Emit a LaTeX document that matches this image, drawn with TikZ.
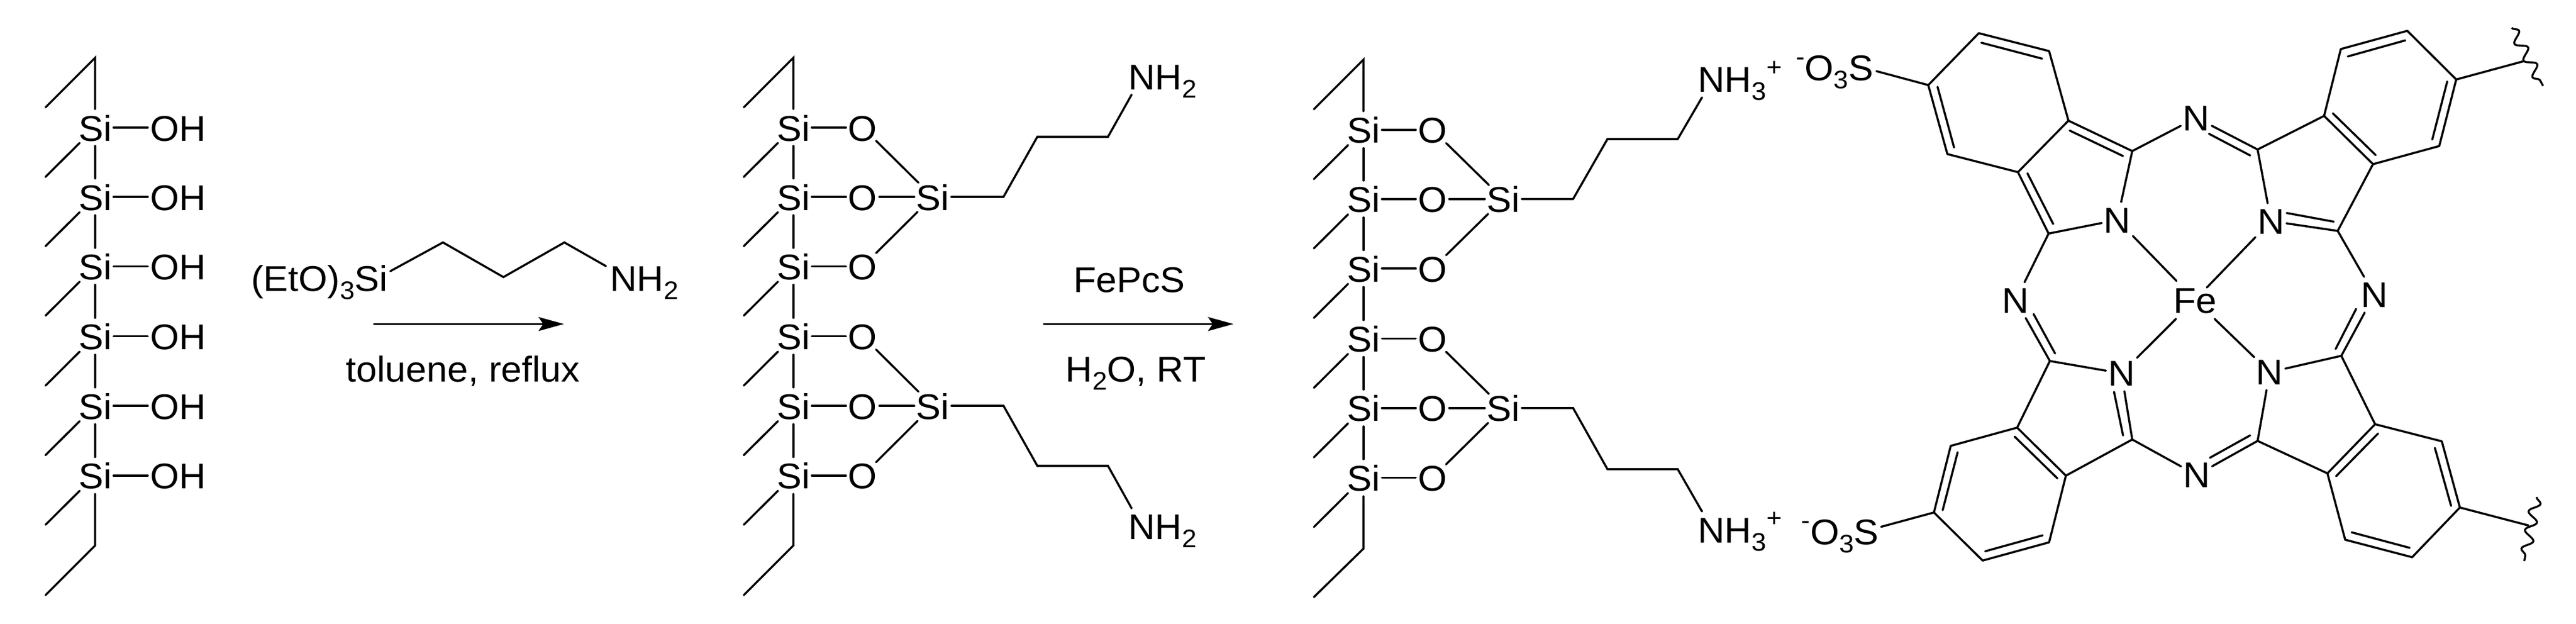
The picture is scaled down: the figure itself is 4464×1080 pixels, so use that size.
\documentclass[tikz,border=0pt]{standalone}
\usepackage{fontspec}
\setmainfont[FakeStretch=1.04]{Liberation Sans}
\usetikzlibrary{arrows.meta,decorations.pathmorphing}
\newcommand\sbt[1]{\raisebox{-14pt}{\fontsize{44pt}{50pt}\selectfont #1}}
\newcommand\spt[2]{\raisebox{#1}{\fontsize{44pt}{50pt}\selectfont #2}}
\tikzset{
  bond/.style={line width=3.6pt,line cap=round,line join=miter,black},
  txt/.style={font=\fontsize{62pt}{70pt}\selectfont,inner sep=0pt,outer sep=0pt,text=black},
  atom/.style={txt,text height=46pt,text depth=0pt,anchor=center},
  sinode/.style={atom,minimum width=64pt,minimum height=64pt},
  onode/.style={atom,minimum width=58pt,minimum height=46pt},
  ohnode/.style={atom,inner xsep=4pt},
  nnode/.style={txt,text height=44pt,text depth=0pt,anchor=center,minimum width=54pt,minimum height=62pt},
  fenode/.style={atom,minimum height=66pt},
  amine/.style={txt,text height=54pt,text depth=9pt,anchor=base west},
  label/.style={txt,anchor=base},
  rxn/.style={line width=3.6pt,black,-{Stealth[length=44pt,width=24pt,inset=8pt]}},
  wavy/.style={line width=3.4pt,black,decorate,decoration={snake,amplitude=9pt,segment length=33pt}},
}
% #1 prefix, #2 column x, #3 row shift, #4 top-vertex y, #5 bottom-vertex y, #6 tail y
\newcommand\pillar[6]{
  \foreach \n/\y in {1/221,2/341,3/461.4,4/582.6,5/703,6/823.7}{
    \node[sinode] (#1\n) at (#2,\y+#3) {Si};
    \coordinate (#1t\n) at (#2-86,\y+#3+85.5);
    \draw[bond,shorten <=-7.5pt] (#1\n) -- (#1t\n);
  }
  \foreach \n/\m in {1/2,2/3,3/4,4/5,5/6}{\draw[bond] (#1\n) -- (#1\m);}
  \coordinate (#1top) at (#2,#4);
  \coordinate (#1toptip) at (#2-86,#4+86);
  \coordinate (#1bot) at (#2,#5);
  \coordinate (#1bottip) at (#2-86,#6);
  \draw[bond] (#1toptip) -- (#1top) -- (#11);
  \draw[bond] (#16) -- (#1bot) -- (#1bottip);
}
% siloxane part: #1 prefix, #2 O x, #3 Si x, #4 row shift
\newcommand\siloxane[4]{
  \foreach \n/\y in {1/221,2/341,3/461.4,4/582.6,5/703,6/823.7}{
    \node[onode] (#1o\n) at (#2,\y+#4) {O};
    \draw[bond] (#1\n) -- (#1o\n);
  }
  \node[sinode] (#1sa) at (#3,341+#4) {Si};
  \node[sinode] (#1sb) at (#3,703+#4) {Si};
  \draw[bond] (#1o2) -- (#1sa);
  \draw[bond] (#1o5) -- (#1sb);
  \draw[bond,shorten >=-10pt] (#1o1) -- (#1sa);
  \draw[bond,shorten >=-8pt] (#1o3) -- (#1sa);
  \draw[bond,shorten >=-10pt] (#1o4) -- (#1sb);
  \draw[bond,shorten >=-8pt] (#1o6) -- (#1sb);
}
% double bond: outer #1--#2, inner line between two given points
\newcommand\dbl[6]{
  \coordinate (#1#2s) at (#3,#4);
  \coordinate (#1#2e) at (#5,#6);
  \draw[bond] (#1) -- (#2);
  \draw[bond] (#1#2s) -- (#1#2e);
}
\begin{document}
\begin{tikzpicture}[x=1pt,y=-1pt]
\path[use as bounding box,fill=white] (0,0) rectangle (4464,1080);

% ---- left column
\pillar{a}{164.8}{0}{100}{945}{1031}
\foreach \n/\y in {1/221,2/341,3/461.4,4/582.6,5/703,6/823.7}{
  \node[ohnode] (aoh\n) at (308.4,\y) {OH};
  \draw[bond] (a\n) -- (aoh\n);
}

% ---- reagent
\node[txt,text height=68.6pt,text depth=0pt,anchor=base east,inner xsep=4.5pt] (rgsi) at (676.5,504) {(EtO)\sbt{3}Si};
\node[txt,text height=43pt,text depth=0pt,anchor=base west] (rgnh) at (1057,504) {NH\sbt{2}};
\coordinate (rg1) at (767.6,420);
\coordinate (rg2) at (872.4,480);
\coordinate (rg3) at (978,420);
\draw[bond] (rgsi.east) -- (rg1) -- (rg2) -- (rg3) -- ([xshift=-7pt]rgnh.north west);
\coordinate (ar1s) at (646.7,561.3);
\coordinate (ar1e) at (977.3,561.3);
\draw[rxn] (ar1s) -- (ar1e);
\node[label] (tol) at (802.4,661) {toluene, reflux};

% ---- middle
\pillar{b}{1374.8}{0}{100}{945}{1031}
\siloxane{b}{1495}{1616.4}{0}
\coordinate (bc1) at (1739,341);
\coordinate (bc2) at (1797.6,237);
\coordinate (bc3) at (1920,237);
\coordinate (bc4) at (1739,703);
\coordinate (bc5) at (1797.6,807);
\coordinate (bc6) at (1920,807);
\node[amine] (bnh1) at (1955,155) {NH\sbt{2}};
\node[amine] (bnh2) at (1955,934.6) {NH\sbt{2}};
\draw[bond] (bsa) -- (bc1) -- (bc2) -- (bc3) -- ([xshift=6pt]bnh1.south west);
\draw[bond] (bsb) -- (bc4) -- (bc5) -- (bc6) -- ([xshift=6pt]bnh2.north west);
\coordinate (ar2s) at (1807.8,561.3);
\coordinate (ar2e) at (2137.5,561.3);
\draw[rxn] (ar2s) -- (ar2e);
\node[label] (fepcs) at (1957,506) {FePcS};
\node[label] (water) at (1968,661) {H\sbt{2}O, RT};

% ---- right
\pillar{c}{2362.8}{3.8}{103.3}{950.4}{1034.4}
\siloxane{c}{2482.5}{2605}{3.8}
\coordinate (cc1) at (2726,344.8);
\coordinate (cc2) at (2785.5,241);
\coordinate (cc3) at (2907.3,241);
\coordinate (cc4) at (2726,706.8);
\coordinate (cc5) at (2785.5,812.7);
\coordinate (cc6) at (2907.3,812.7);
\node[amine] (cnh1) at (2942.4,159.8) {NH\sbt{3}\spt{28pt}{+}};
\node[amine] (cnh2) at (2942.4,940) {NH\sbt{3}\spt{28pt}{+}};
\draw[bond] (csa) -- (cc1) -- (cc2) -- (cc3) -- ([xshift=7pt]cnh1.south west);
\draw[bond] (csb) -- (cc4) -- (cc5) -- (cc6) -- ([xshift=7pt]cnh2.north west);

% ---- phthalocyanine atoms
\node[fenode] (fe) at (3803.6,519.5) {Fe};
\node[nnode] (ntl) at (3669,381) {N};
\node[nnode] (ntr) at (3935.4,383) {N};
\node[nnode] (nbl) at (3676.3,646.8) {N};
\node[nnode] (nbr) at (3933.2,644.7) {N};
\node[nnode] (mt) at (3806,204) {N};
\node[nnode] (mb) at (3806.5,822.8) {N};
\node[nnode] (ml) at (3493,520) {N};
\node[nnode] (mr) at (4114.5,510.5) {N};
\node[txt,text height=32.4pt,text depth=0pt,anchor=base east,inner xsep=5.8pt] (so1) at (3251.8,139.5) {\spt{26.5pt}{-}O\sbt{3}S};
\node[txt,text height=60.8pt,text depth=0pt,anchor=base east,inner xsep=4pt] (so2) at (3259.8,943) {\spt{26.5pt}{-}O\sbt{3}S};

% top-left unit
\coordinate (a1c) at (3341.5,147.4);
\coordinate (b1c) at (3429,57.5);
\coordinate (c1c) at (3550.9,88.5);
\coordinate (d1c) at (3584.4,209);
\coordinate (e1c) at (3496.9,298.2);
\coordinate (f1c) at (3374.6,266.9);
\coordinate (g1c) at (3695,261.7);
\coordinate (h1c) at (3550,404.6);
\draw[bond] (so1.east) -- (a1c) -- (b1c);
\dbl{b1c}{c1c}{3433.5}{74}{3538.8}{101.6}
\draw[bond] (c1c) -- (d1c) -- (e1c) -- (f1c);
\dbl{f1c}{a1c}{3386.2}{255.5}{3357.6}{150.5}
\dbl{d1c}{g1c}{3586.6}{226.2}{3679}{270.3}
\dbl{e1c}{h1c}{3513.4}{300.3}{3558}{388}
\draw[bond] (g1c) -- (ntl);
\draw[bond] (h1c) -- (ntl);
\draw[bond] (g1c) -- (mt);
\draw[bond] (h1c) -- (ml);

% top-right unit
\coordinate (a2c) at (4256.4,137.7);
\coordinate (b2c) at (4171.6,53.4);
\coordinate (c2c) at (4056.4,85);
\coordinate (d2c) at (4027.4,200.8);
\coordinate (e2c) at (4112.2,284.4);
\coordinate (f2c) at (4227,253);
\coordinate (g2c) at (3912.2,259);
\coordinate (h2c) at (4051,400);
\coordinate (w1) at (4373.4,106);
\coordinate (w1a) at (4352.4,48.2);
\coordinate (w1b) at (4406.9,148.8);
\draw[bond] (a2c) -- (b2c);
\dbl{b2c}{c2c}{4168}{70}{4068.5}{97.8}
\draw[bond] (c2c) -- (d2c) -- (g2c);
\dbl{d2c}{e2c}{4042.6}{196.3}{4116.7}{268.6}
\draw[bond] (e2c) -- (f2c);
\dbl{f2c}{a2c}{4214.9}{241.7}{4240.8}{141.2}
\draw[bond] (e2c) -- (h2c);
\draw[bond] (g2c) -- (ntr);
\dbl{ntr}{h2c}{3962.7}{369}{4044}{384}
\dbl{mt}{g2c}{3827.8}{231.7}{3899.3}{269.3}
\draw[bond] (h2c) -- (mr);
\draw[bond] (a2c) -- (w1);
\draw[wavy] (w1a) -- (w1b);

% bottom-left unit
\coordinate (a3c) at (3351.3,887.8);
\coordinate (b3c) at (3435.7,971.1);
\coordinate (c3c) at (3550.9,939.5);
\coordinate (d3c) at (3580,824);
\coordinate (e3c) at (3495.5,740.8);
\coordinate (f3c) at (3380.4,772.4);
\coordinate (g3c) at (3695,761.4);
\coordinate (h3c) at (3552.2,625.4);
\draw[bond] (so2.east) -- (a3c) -- (b3c);
\dbl{b3c}{c3c}{3440.2}{955}{3539.7}{927.4}
\draw[bond] (c3c) -- (d3c) -- (g3c);
\dbl{d3c}{e3c}{3565.2}{828.6}{3491}{756.3}
\draw[bond] (e3c) -- (f3c);
\dbl{f3c}{a3c}{3392.4}{783.5}{3366.5}{883.7}
\draw[bond] (e3c) -- (h3c) -- (nbl);
\dbl{nbl}{g3c}{3663.4}{678.8}{3679}{754.2}
\dbl{ml}{h3c}{3524}{544}{3561.2}{612.3}
\draw[bond] (g3c) -- (mb);

% bottom-right unit
\coordinate (a4c) at (4262.7,879.2);
\coordinate (b4c) at (4180,965.3);
\coordinate (c4c) at (4064,935);
\coordinate (d4c) at (4033.2,820);
\coordinate (e4c) at (4115.8,734.9);
\coordinate (f4c) at (4231.4,764.5);
\coordinate (g4c) at (3912.2,763.8);
\coordinate (h4c) at (4057.3,616.4);
\coordinate (w2) at (4381.4,910.2);
\coordinate (w2a) at (4395.7,861);
\coordinate (w2b) at (4374.3,972);
\draw[bond] (a4c) -- (b4c);
\dbl{b4c}{c4c}{4175.6}{949}{4075.2}{922.2}
\draw[bond] (c4c) -- (d4c) -- (g4c);
\dbl{d4c}{e4c}{4048.4}{824.8}{4121}{751}
\draw[bond] (e4c) -- (f4c);
\dbl{f4c}{a4c}{4219.4}{775.9}{4247.5}{876.4}
\draw[bond] (e4c) -- (h4c) -- (nbr);
\draw[bond] (nbr) -- (g4c);
\dbl{mb}{g4c}{3829.6}{793}{3899.3}{754.2}
\dbl{mr}{h4c}{4083}{535}{4047.5}{604.4}
\draw[bond] (a4c) -- (w2);
\draw[wavy] (w2a) -- (w2b);

% iron coordination
\draw[bond] (ntl) -- (fe);
\draw[bond,shorten >=-16pt] (ntr) -- (fe);
\draw[bond] (nbl) -- (fe);
\draw[bond] (nbr) -- (fe);
\end{tikzpicture}
\end{document}
